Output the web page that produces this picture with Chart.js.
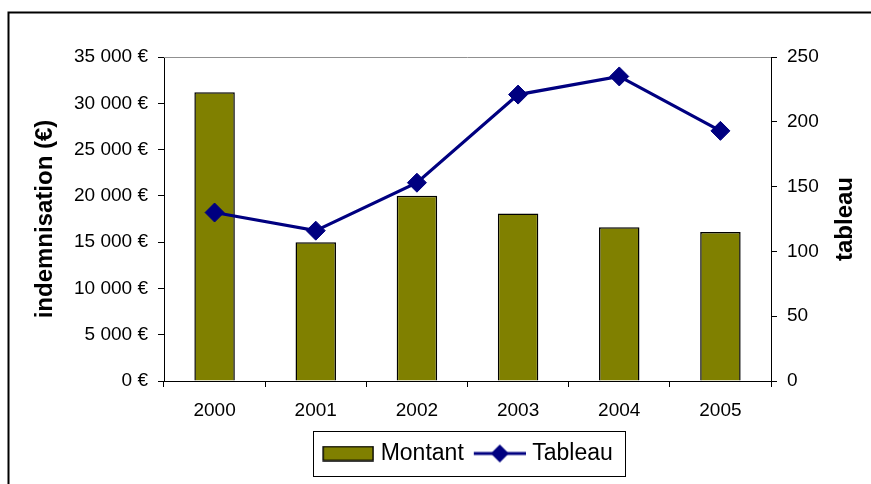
<!DOCTYPE html>
<html>
<head>
<meta charset="utf-8">
<script src="https://cdn.jsdelivr.net/npm/chart.js@4/dist/chart.umd.min.js"></script>
<style>
html,body{margin:0;padding:0;background:#fff;}
canvas{display:block;}
</style>
</head>
<body>
<canvas id="c" width="871" height="484"></canvas>
<script>
const years = ['2000', '2001', '2002', '2003', '2004', '2005'];
const montant = [31200, 15000, 20000, 18100, 16600, 16100];
const tableau = [130, 116, 153, 221, 235, 193];
const leftTitle = 'indemnisation (€)';
const rightTitle = 'tableau';
const legendNames = ['Montant', 'Tableau'];

const OLIVE = '#808000';
const NAVY = '#000080';
const FONT = "'Liberation Sans', Arial, sans-serif";

Chart.defaults.color = '#000';
Chart.defaults.font.family = FONT;
Chart.defaults.font.size = 19;

function euro(v) {
  return String(v).replace(/\B(?=(\d{3})+(?!\d))/g, ' ') + ' €';
}

// legend icons (box width 47, icon 52 drawn from box start)
const BOXW = 47;
const ICONW = 52;
const barIcon = document.createElement('canvas');
barIcon.width = 2 * (ICONW - BOXW / 2); barIcon.height = 16;
(function () {
  const off = barIcon.width / 2 - BOXW / 2;
  const g = barIcon.getContext('2d');
  g.fillStyle = OLIVE; g.fillRect(off + 1, 1, ICONW - 2, 14);
  g.strokeStyle = '#000'; g.lineWidth = 1.5; g.strokeRect(off + 1, 1, ICONW - 2, 14);
})();
const lineIcon = document.createElement('canvas');
lineIcon.width = 2 * (ICONW - BOXW / 2); lineIcon.height = 20;
(function () {
  const off = lineIcon.width / 2 - BOXW / 2;
  const g = lineIcon.getContext('2d');
  g.strokeStyle = NAVY; g.lineWidth = 3;
  g.beginPath(); g.moveTo(off, 10); g.lineTo(off + ICONW, 10); g.stroke();
  g.fillStyle = NAVY;
  const cx = off + ICONW / 2;
  g.beginPath(); g.moveTo(cx, 1); g.lineTo(cx + 9, 10); g.lineTo(cx, 19); g.lineTo(cx - 9, 10); g.closePath(); g.fill();
})();

const framePlugin = {
  id: 'frame',
  beforeDraw(chart) {
    const ctx = chart.ctx;
    ctx.save();
    ctx.fillStyle = '#fff';
    ctx.fillRect(0, 0, chart.width, chart.height);
    ctx.restore();
  },
  beforeDatasetsDraw(chart) {
    const {ctx, chartArea: a} = chart;
    ctx.save();
    ctx.strokeStyle = '#909090';
    ctx.lineWidth = 1;
    ctx.beginPath();
    ctx.moveTo(a.left, Math.round(a.top) + 0.5);
    ctx.lineTo(a.right, Math.round(a.top) + 0.5);
    ctx.stroke();
    ctx.restore();
  },
  afterDraw(chart) {
    const ctx = chart.ctx;
    ctx.save();
    ctx.strokeStyle = '#000';
    ctx.lineWidth = 2;
    ctx.strokeRect(8.5, 12.5, 900, 600);
    ctx.font = 'bold 24px ' + FONT;
    ctx.fillStyle = '#000';
    ctx.textAlign = 'center';
    ctx.textBaseline = 'middle';
    ctx.translate(845, (chart.chartArea.top + chart.chartArea.bottom) / 2);
    ctx.rotate(-Math.PI / 2);
    ctx.fillText(rightTitle, 0, 0);
    ctx.restore();
    const lg = chart.legend;
    if (lg && lg.legendHitBoxes && lg.legendHitBoxes.length) {
      const hb = lg.legendHitBoxes;
      let l = Infinity, r = -Infinity, t = Infinity, b = -Infinity;
      hb.forEach(h => { l = Math.min(l, h.left); r = Math.max(r, h.left + h.width); t = Math.min(t, h.top); b = Math.max(b, h.top + h.height); });
      ctx.save();
      ctx.strokeStyle = '#000';
      ctx.lineWidth = 1;
      ctx.strokeRect(Math.round(l - 9) + 0.5, Math.round(t - 11) + 0.5, Math.round(r - l + 21), Math.round(b - t + 22));
      ctx.restore();
    }
  }
};

new Chart(document.getElementById('c'), {
  type: 'bar',
  data: {
    labels: years,
    datasets: [
      {
        type: 'bar',
        label: legendNames[0],
        data: montant,
        backgroundColor: OLIVE,
        borderColor: '#000',
        borderWidth: 1.5,
        categoryPercentage: 0.8,
        barPercentage: 0.5,
        yAxisID: 'y',
        order: 2
      },
      {
        type: 'line',
        label: legendNames[1],
        data: tableau,
        borderColor: NAVY,
        backgroundColor: NAVY,
        borderWidth: 3.2,
        pointStyle: 'rectRot',
        pointRadius: 9.5,
        pointBorderWidth: 1,
        pointBackgroundColor: NAVY,
        pointBorderColor: NAVY,
        tension: 0,
        yAxisID: 'y1',
        order: 1
      }
    ]
  },
  options: {
    responsive: false,
    animation: false,
    layout: { padding: { left: 0, right: 0, top: 57, bottom: 9 } },
    plugins: {
      tooltip: { enabled: false },
      legend: {
        position: 'bottom',
        fullSize: false,
        labels: {
          usePointStyle: true,
          pointStyleWidth: BOXW,
          padding: 10,
          font: { size: 23 },
          color: '#000',
          generateLabels() {
            return [
              { text: legendNames[0], pointStyle: barIcon, datasetIndex: 0, fillStyle: OLIVE, strokeStyle: '#000', lineWidth: 0, hidden: false },
              { text: legendNames[1], pointStyle: lineIcon, datasetIndex: 1, fillStyle: NAVY, strokeStyle: NAVY, lineWidth: 0, hidden: false }
            ];
          }
        }
      }
    },
    scales: {
      x: {
        position: 'bottom',
        grid: { display: true, drawOnChartArea: false, drawTicks: true, tickLength: 6, color: '#000', offset: true },
        border: { display: true, color: '#000', width: 1 },
        ticks: { padding: 12, color: '#000', maxRotation: 0 },
        afterFit(s) { s.height = 51; }
      },
      y: {
        position: 'left',
        min: 0, max: 35000,
        grid: { drawOnChartArea: false, drawTicks: true, tickLength: 6, color: '#000' },
        border: { display: true, color: '#000', width: 1 },
        ticks: { stepSize: 5000, padding: 10, color: '#000', callback: v => euro(v) },
        title: { display: true, text: leftTitle, font: { size: 24, weight: 'bold' }, color: '#000', padding: { top: 31, bottom: 0 } },
        afterFit(s) { s.width = 164; }
      },
      y1: {
        position: 'right',
        min: 0, max: 250,
        grid: { drawOnChartArea: false, drawTicks: true, tickLength: 6, color: '#000' },
        border: { display: true, color: '#000', width: 1 },
        ticks: { stepSize: 50, padding: 10, color: '#000' },
        afterFit(s) { s.width = 100; }
      }
    }
  },
  plugins: [framePlugin]
});
</script>
</body>
</html>
